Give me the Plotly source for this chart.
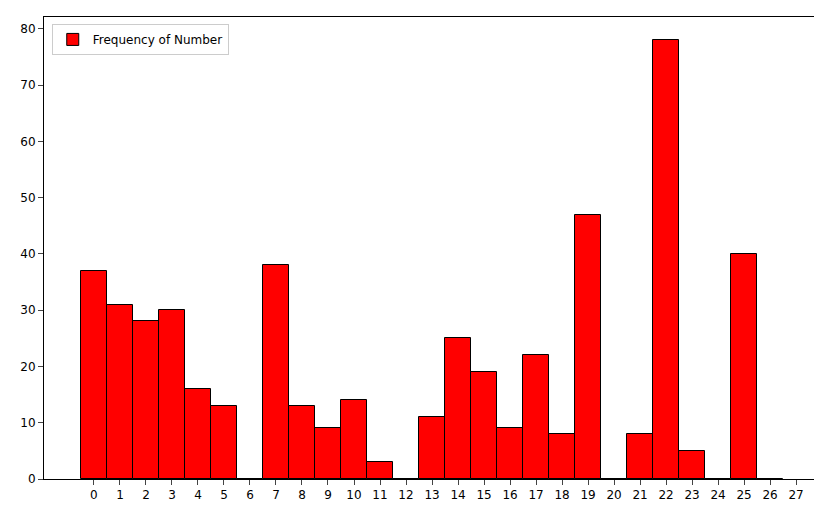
import plotly.graph_objects as go

numbers = list(range(27))
counts = [37,31,28,30,16,13,0,38,13,9,14,3,0,11,25,19,9,22,8,47,0,8,78,5,0,40,0]
tick_labels = [str(i) for i in range(28)]

fig = go.Figure(go.Bar(x=numbers, y=counts, width=1, marker=dict(color="red", line=dict(color="black", width=1)),
                       name="Frequency of Number", showlegend=True))
fig.update_layout(
    width=822, height=505, paper_bgcolor="white", plot_bgcolor="white",
    margin=dict(l=36, r=11, t=9, b=34, autoexpand=False),
    font=dict(family="DejaVu Sans", size=12, color="black"),
    legend=dict(x=0.01, y=0.985, xanchor="left", yanchor="top", bordercolor="#cccccc", borderwidth=1, bgcolor="white"),
    bargap=0,
)
fig.update_xaxes(range=[-1.92, 27.88], tickmode="array", tickvals=list(range(28)), ticktext=tick_labels, automargin=False,
                 showline=True, linecolor="black", mirror=True, ticks="outside", showgrid=False, zeroline=False)
fig.update_yaxes(range=[0, 82.1], dtick=10, showline=True, linecolor="black", mirror=True, ticks="outside", automargin=False,
                 showgrid=False, zeroline=False)
fig.write_html("out.html")
